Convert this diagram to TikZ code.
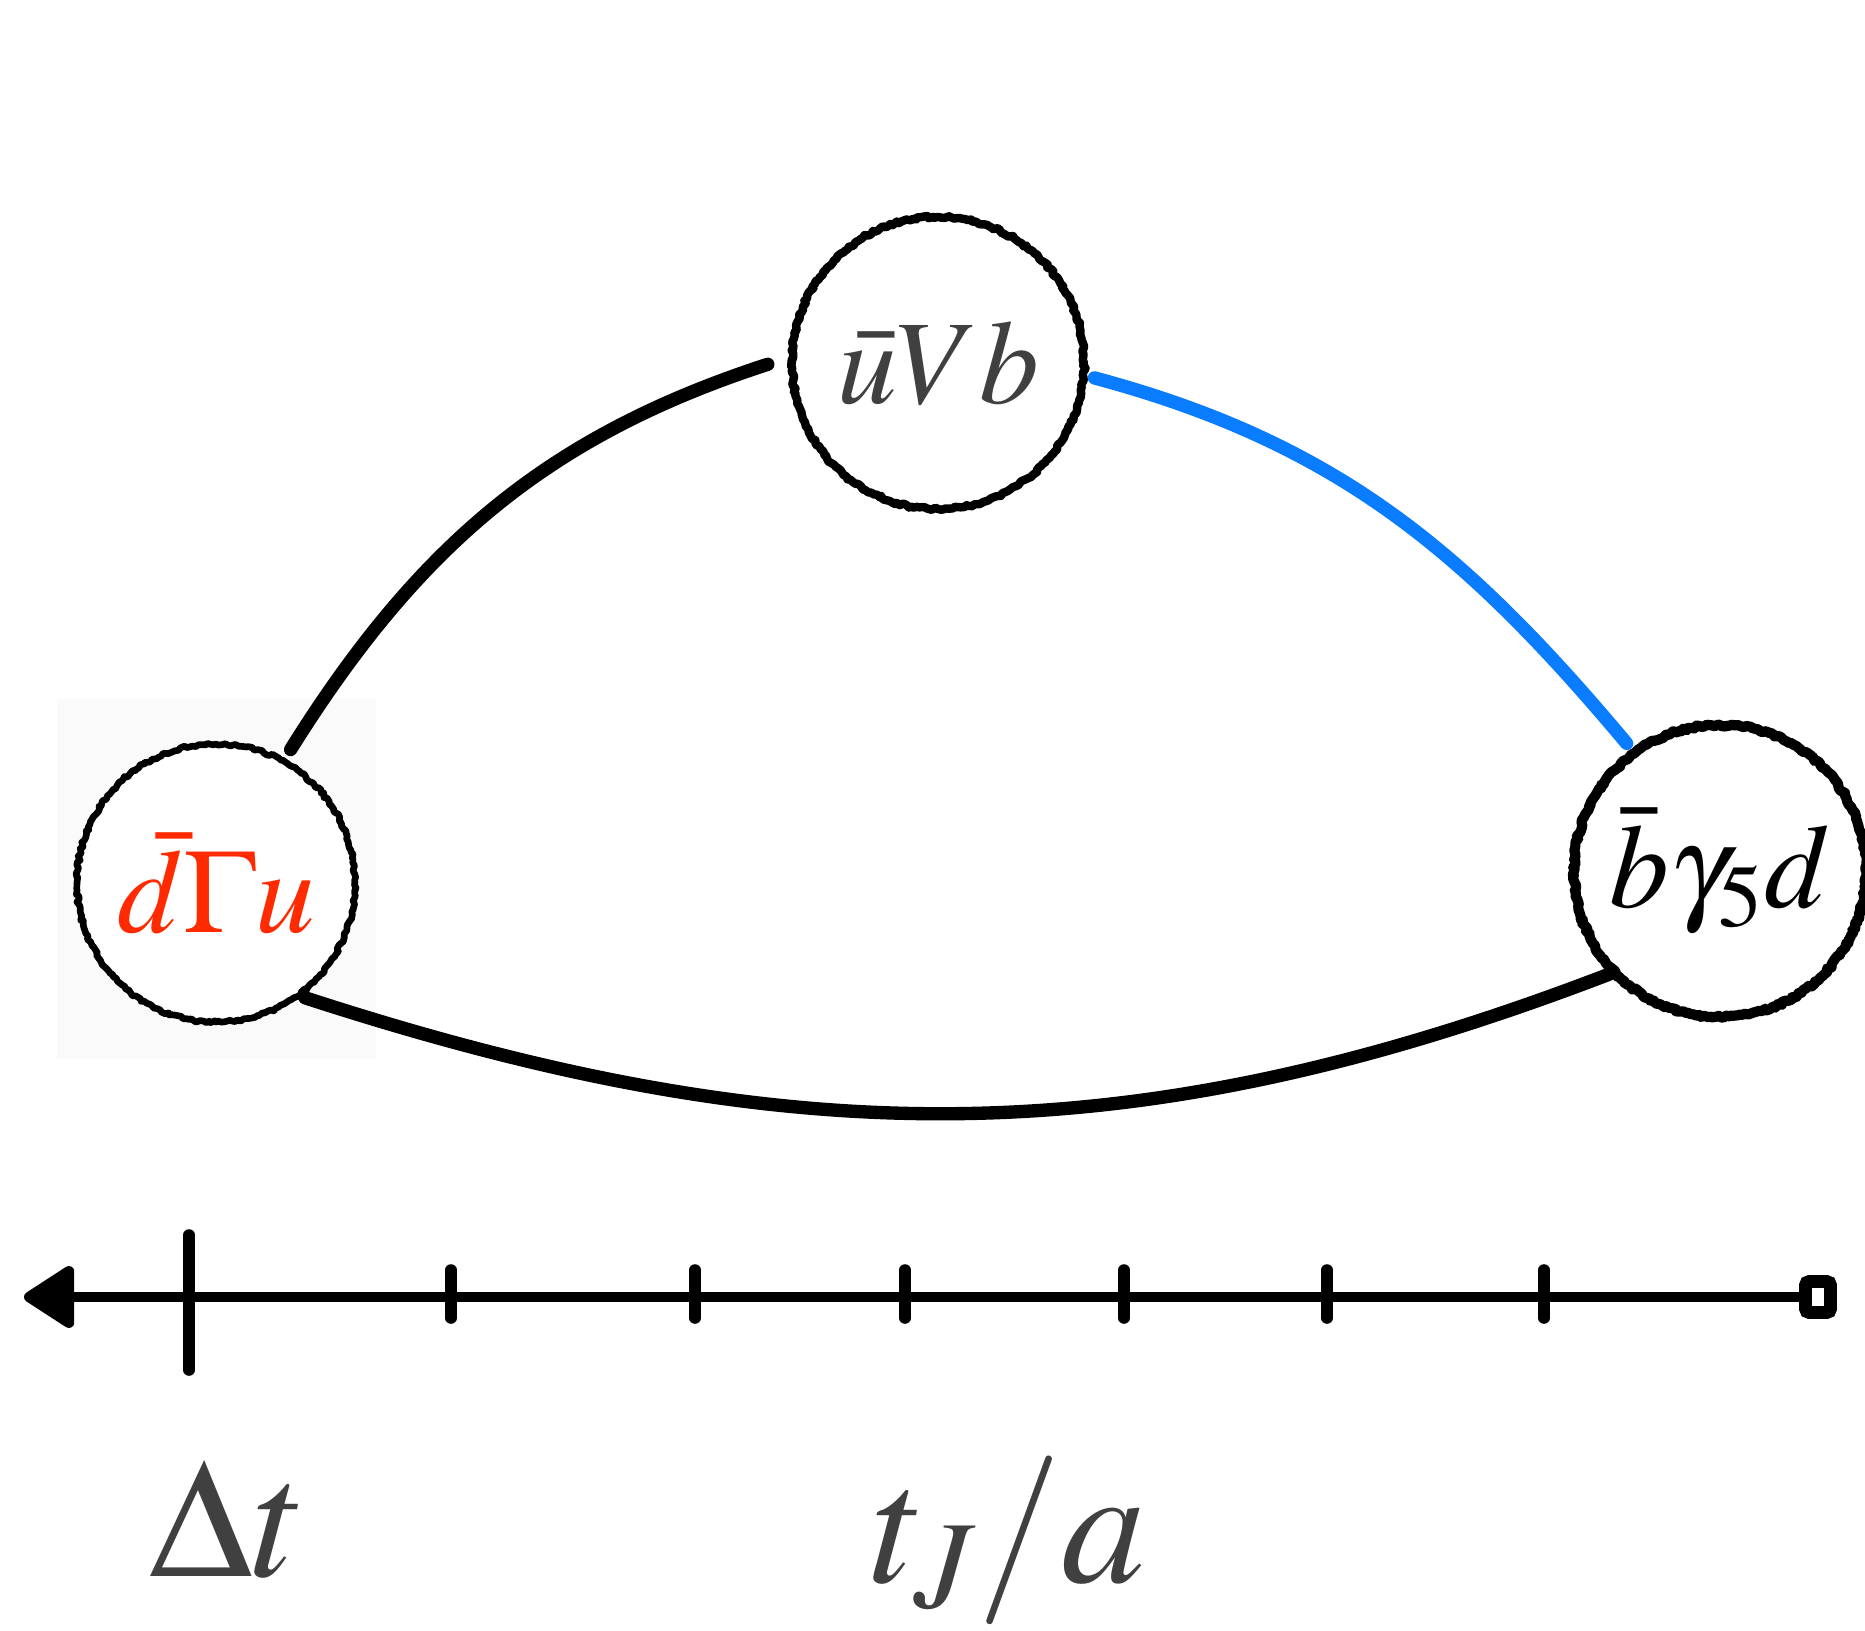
\documentclass[tikz,border=0pt]{standalone}
\usepackage{mathptmx}
\usetikzlibrary{arrows.meta,decorations.pathmorphing}
\definecolor{txtgray}{HTML}{404040}
\definecolor{opred}{HTML}{FF2A00}
\definecolor{propblue}{HTML}{0A7CFF}

\begin{document}
\begin{tikzpicture}
  [line cap=round,
   vtx/.style={circle,draw,fill=white,inner sep=0pt,minimum size=2.92cm,line width=2.4pt,line join=round,
     decorate,decoration={random steps,segment length=0.8pt,amplitude=0.4pt},
     font=\fontsize{34}{40}\selectfont},
   prop/.style={line width=3.8pt},
   tick/.style={line width=3.3pt},
   lbl/.style={text=txtgray,font=\fontsize{48}{54}\selectfont}]
  \useasboundingbox (0,0) rectangle (18.65,16.30);
  \pgfmathsetseed{7}
  \fill[black!2] (0.57,5.71) rectangle (3.76,9.31);

  \node[vtx,minimum size=2.78cm,line width=1.9pt,text=opred] (src) at (2.16,7.47) {$\bar{d}\Gamma u$};
  \node[vtx,text=txtgray] (cur) at (9.38,12.67) {$\bar{u}Vb$};
  \node[vtx,line width=2.9pt] (snk) at (17.20,7.59) {$\bar{b}\gamma_5 d$};

  \draw[prop,shorten <=3pt,shorten >=6pt] (src.61) to[out=58,in=198] (cur.178);
  \draw[prop,propblue,shorten <=2pt,shorten >=2pt] (cur.355) to[out=-15,in=130] (snk.126);
  \draw[prop,shorten <=1pt] (src.307) to[out=-18,in=201] (snk.223);

  % time axis
  \node[draw,line width=3.6pt,rounded corners=1pt,minimum width=0.25cm,minimum height=0.31cm,inner sep=0pt] (tend) at (18.18,3.33) {};
  \coordinate (tstart) at (0.24,3.33);
  \draw[line width=3pt,-{Triangle[length=0.55cm,width=0.68cm,round]}] (tend) -- (tstart);
  \draw[tick] (1.89,2.60) -- (1.89,3.95);
  \foreach \x in {4.51,6.95,9.05,11.24,13.27,15.44}
    \draw[tick] (\x,3.12) -- (\x,3.60);

  \node[lbl,anchor=base] (dt) at (2.28,0.54) {$\Delta t$};
  \node[lbl,anchor=base] (tj) at (10.09,0.48) {$t_J/a$};
\end{tikzpicture}
\end{document}
